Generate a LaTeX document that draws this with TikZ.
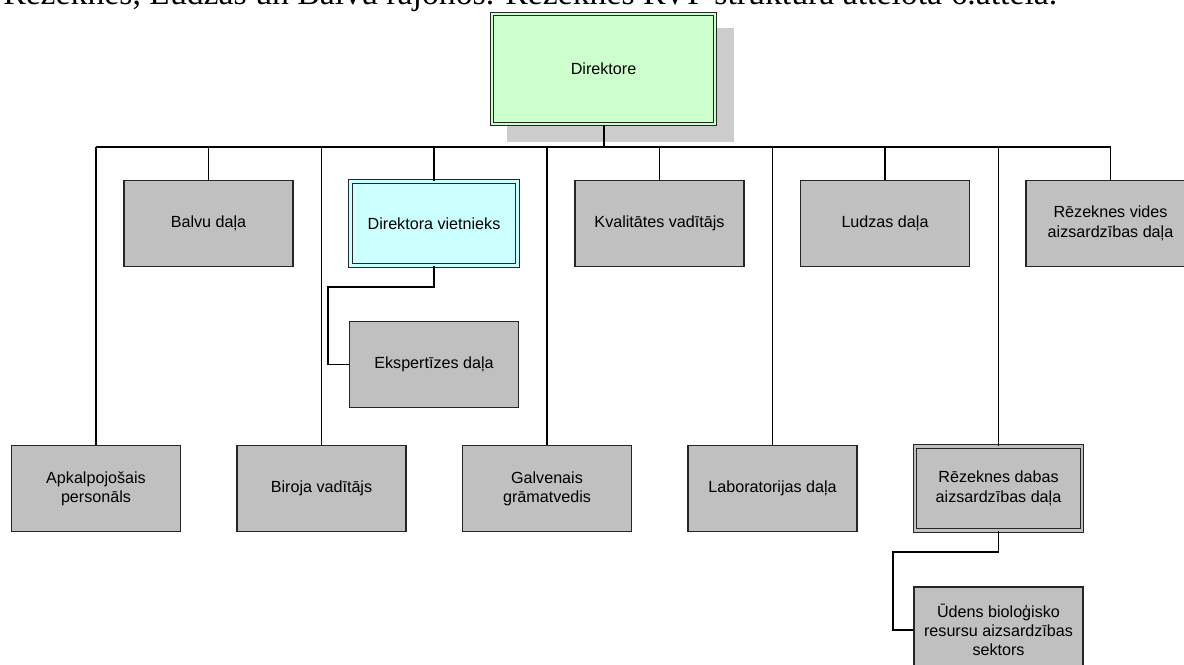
\documentclass[tikz,border=0pt]{standalone}
\usepackage{fontspec}
\setmainfont{Liberation Sans}
\newfontfamily\captionserif{Liberation Serif}
\definecolor{boxgrey}{HTML}{C0C0C0}
\definecolor{dirgreen}{HTML}{CCFFCC}
\definecolor{vietcyan}{HTML}{CCFFFF}
\definecolor{shadowgrey}{HTML}{CCCCCC}
\begin{document}
\begin{tikzpicture}[x=0.75pt,y=-0.75pt,
  box/.style={draw=black!85, line width=0.8pt, fill=boxgrey,
    minimum width=126.75pt, minimum height=64.5pt, inner sep=2pt,
    align=center, font=\fontsize{12.1}{14.5}\selectfont},
  dblbox/.style={box, double=#1, double distance=1.6pt, line width=0.75pt,
    minimum width=125.25pt, minimum height=63pt},
  conn/.style={draw=black, line width=0.95pt},
  busline/.style={draw=black, line width=1.5pt}]
\useasboundingbox[fill=white] (0,0) rectangle (1184,664);
\begin{scope}[overlay]
\clip (0,0) rectangle (1184,664);

% cut-off caption line at the top
\node[anchor=base west, inner sep=0, font=\captionserif\fontsize{25.3}{30}\selectfont] (cap) at (3,4)
  {Rēzeknes, Ludzas un Balvu rajonos. Rēzeknes RVP struktūra attēlota 6.attēlā.};

% shadow of the director box
\fill[shadowgrey] (507,28) rectangle (734,142);

\node[dblbox=dirgreen, fill=dirgreen, minimum width=167.25pt, minimum height=82.5pt] (dir) at (603.5,69) {Direktore};

% upper row
\node[box] (balvu) at (208.5,223.5) {Balvu daļa};
\node[dblbox=vietcyan, fill=vietcyan] (viet) at (434,223.5) {Direktora vietnieks};
\node[box] (kval) at (659.5,223.5) {Kvalitātes vadītājs};
\node[box] (ludza) at (885,223.5) {Ludzas daļa};
\node[box] (vides) at (1110.5,223.5) {Rēzeknes vides\\aizsardzības daļa};

% lower row
\node[box] (apk) at (96,488.5) {Apkalpojošais\\personāls};
\node[box] (biroja) at (321.5,488.5) {Biroja vadītājs};
\node[box] (galv) at (547,488.5) {Galvenais\\grāmatvedis};
\node[box] (lab) at (772.5,488.5) {Laboratorijas daļa};
\node[dblbox=boxgrey] (dabas) at (998.5,488.5) {Rēzeknes dabas\\aizsardzības daļa};

% sub-units
\node[box] (eksp) at (434,364.5) {Ekspertīzes daļa};
\node[box] (udens) at (998.5,630) {Ūdens bioloģisko\\resursu aizsardzības\\sektors};

% bus
\coordinate (bus) at (0,147);
\draw[busline] (dir.south) -- (dir.south |- bus);
\draw[busline] (apk.north |- bus) -- (vides.north |- bus);
\foreach \n in {balvu,viet,kval,ludza,vides,apk,biroja,galv,lab,dabas}
  \draw[conn] (\n.north) -- (\n.north |- bus);

% deputy -> expertise
\coordinate (vk) at (328,287);
\draw[conn] (viet.south) |- (vk) |- (eksp.west);

% nature dept -> water sector
\coordinate (dk) at (893,552);
\draw[conn] (dabas.south) |- (dk) |- (udens.west);
\end{scope}
\end{tikzpicture}
\end{document}
